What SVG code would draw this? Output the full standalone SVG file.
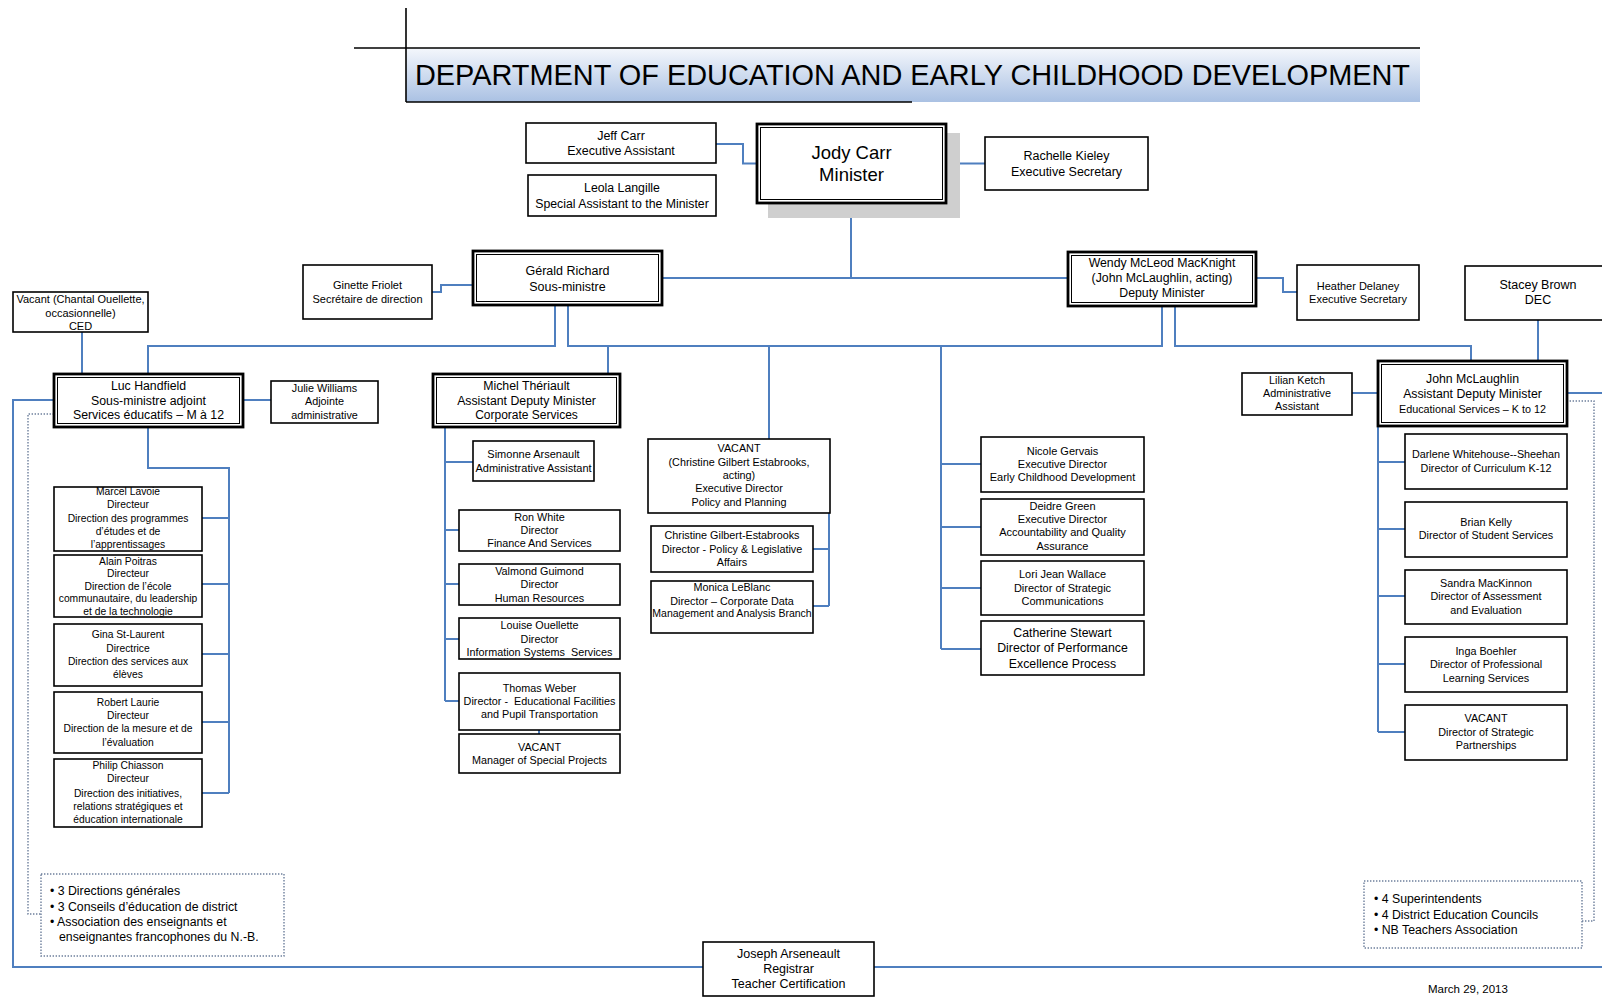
<svg xmlns="http://www.w3.org/2000/svg" width="1602" height="997" viewBox="0 0 1602 997">
<defs>
<linearGradient id="band" x1="0" y1="0" x2="0" y2="1">
<stop offset="0" stop-color="#f4f7fc"/>
<stop offset="1" stop-color="#aac1e3"/>
</linearGradient>
</defs>
<style>
.box{fill:#fff;stroke:#000;stroke-width:1.6}
.dbo{fill:#fff;stroke:#000;stroke-width:2.8}
.dbi{fill:none;stroke:#000;stroke-width:1}
.conn{fill:none;stroke:#4f7fbf;stroke-width:2}
.dot{fill:none;stroke:#6d7f9c;stroke-width:1.4;stroke-dasharray:1.4 1.6}
text{font-family:"Liberation Sans",Arial,sans-serif;fill:#000;text-anchor:middle}
.s125{font-size:12.5px}
.s123{font-size:12.3px}
.s11{font-size:11px}
.s108{font-size:10.8px}
.s103{font-size:10.3px}
.lt{text-anchor:start;font-size:12.3px}
</style>
<rect width="1602" height="997" fill="#fff"/>

<g id="title">
<rect x="406" y="48" width="1014" height="54" fill="url(#band)"/>
<line x1="406" y1="8" x2="406" y2="102" stroke="#000" stroke-width="1.6"/>
<line x1="354" y1="48" x2="1420" y2="48" stroke="#000" stroke-width="1.6"/>
<line x1="406" y1="102" x2="912" y2="102" stroke="#000" stroke-width="1.6"/>
<text x="415" y="85" style="text-anchor:start;font-size:30px" textLength="995" lengthAdjust="spacingAndGlyphs">DEPARTMENT OF EDUCATION AND EARLY CHILDHOOD DEVELOPMENT</text>
</g>

<g id="connectors">
<path class="conn" d="M716,144 H743 V163.5 H757"/>
<path class="conn" d="M946,163.5 H985"/>
<path class="conn" d="M851,210 V278"/>
<path class="conn" d="M662,278 H1068"/>
<path class="conn" d="M432,292 H441 V285 H473"/>
<path class="conn" d="M1256,278 H1283 V292 H1297"/>
<path class="conn" d="M555,305 V346 H148 V374"/>
<path class="conn" d="M568,305 V346 H1162 V305"/>
<path class="conn" d="M1175,305 V346 H1471 V361"/>
<path class="conn" d="M1538,320 V361"/>
<path class="conn" d="M608,346 V374"/>
<path class="conn" d="M769,346 V439"/>
<path class="conn" d="M941,346 V649 M941,464 H981 M941,527 H981 M941,588 H981 M941,649 H981"/>
<path class="conn" d="M82,332 V374"/>
<path class="conn" d="M243,400 H271"/>
<path class="conn" d="M148,427 V468 H229 V793 M202,518 H229 M202,584 H229 M202,654 H229 M202,722 H229 M202,793 H229"/>
<path class="conn" d="M54,400 H13 V967 H703 M874,967 H1602"/>
<path class="conn" d="M1567,393 H1602"/>
<path class="conn" d="M445,427 V701 M445,462 H473 M445,530 H459 M445,584 H459 M445,639 H459 M445,701 H459"/>
<path class="conn" d="M539,730 V734"/>
<path class="conn" d="M829,482 V606 M813,549 H829 M813,606 H829"/>
<path class="conn" d="M1352,393 H1378"/>
<path class="conn" d="M1378,426 V732 M1378,462 H1405 M1378,529 H1405 M1378,596 H1405 M1378,664 H1405 M1378,732 H1405"/>
<path class="dot" d="M54,414 H28 V914 H41"/>
<path class="dot" d="M1582,921 H1594 V401 H1567"/>
</g>

<g id="jeff-carr"><rect class="box" x="526" y="123" width="190" height="40"/>
<text class="s125" x="621" y="139.8">Jeff Carr</text><text class="s125" x="621" y="155.1">Executive Assistant</text></g>

<g id="leola-langille"><rect class="box" x="528" y="175" width="188" height="41"/>
<text class="s123" x="622" y="192.3">Leola Langille</text><text class="s123" x="622" y="207.6">Special Assistant to the Minister</text></g>

<g id="jody-carr"><rect x="768" y="133" width="192" height="85" fill="#cfcfcf"/>
<rect class="dbo" x="757" y="124" width="189" height="79"/><rect class="dbi" x="760.5" y="127.5" width="182" height="72"/>
<text x="851.5" y="158.9" style="font-size:18.5px">Jody Carr</text><text x="851.5" y="181.4" style="font-size:18.5px">Minister</text></g>

<g id="rachelle-kieley"><rect class="box" x="985" y="137" width="163" height="53"/>
<text class="s125" x="1066.5" y="160.3">Rachelle Kieley</text><text class="s125" x="1066.5" y="175.6">Executive Secretary</text></g>

<g id="ginette-friolet"><rect class="box" x="303" y="265" width="129" height="54"/>
<text class="s11" x="367.5" y="289.2">Ginette Friolet</text><text class="s11" x="367.5" y="302.7">Secrétaire de direction</text></g>

<g id="gerald-richard"><rect class="dbo" x="473" y="251" width="189" height="54"/><rect class="dbi" x="476.5" y="254.5" width="182" height="47"/>
<text class="s125" x="567.5" y="275.3">Gérald Richard</text><text class="s125" x="567.5" y="290.5">Sous-ministre</text></g>

<g id="wendy-mcleod-macknight"><rect class="dbo" x="1068" y="252" width="188" height="54"/><rect class="dbi" x="1071.5" y="255.5" width="181" height="47"/>
<text class="s123" x="1162" y="266.5">Wendy McLeod MacKnight</text><text class="s123" x="1162" y="281.6">(John McLaughlin, acting)</text><text class="s123" x="1162" y="296.7">Deputy Minister</text></g>

<g id="heather-delaney"><rect class="box" x="1297" y="265" width="122" height="55"/>
<text class="s11" x="1358" y="289.7">Heather Delaney</text><text class="s11" x="1358" y="303.2">Executive Secretary</text></g>

<g id="stacey-brown"><rect class="box" x="1465" y="266" width="145" height="54"/>
<text class="s125" x="1538" y="288.5">Stacey Brown</text><text class="s125" x="1538" y="303.9">DEC</text></g>

<g id="vacant-ced"><rect class="box" x="13" y="292" width="135" height="40"/>
<text class="s11" x="80.5" y="303.4">Vacant (Chantal Ouellette,</text><text class="s11" x="80.5" y="316.6">occasionnelle)</text><text class="s11" x="80.5" y="330">CED</text></g>

<g id="luc-handfield"><rect class="dbo" x="54" y="374" width="189" height="53"/><rect class="dbi" x="57.5" y="377.5" width="182" height="46"/>
<text class="s123" x="148.5" y="389.6">Luc Handfield</text><text class="s123" x="148.5" y="404.9">Sous-ministre adjoint</text><text class="s123" x="148.5" y="419.2">Services éducatifs – M à 12</text></g>

<g id="julie-williams"><rect class="box" x="271" y="381" width="107" height="42"/>
<text class="s108" x="324.5" y="391.9">Julie Williams</text><text class="s108" x="324.5" y="405.4">Adjointe</text><text class="s108" x="324.5" y="418.7">administrative</text></g>

<g id="michel-theriault"><rect class="dbo" x="433" y="374" width="187" height="53"/><rect class="dbi" x="436.5" y="377.5" width="180" height="46"/>
<text class="s123" x="526.5" y="389.6">Michel Thériault</text><text class="s123" x="526.5" y="404.9">Assistant Deputy Minister</text><text x="526.5" y="419.2" style="font-size:12px">Corporate Services</text></g>

<g id="simonne-arsenault"><rect class="box" x="473" y="441" width="121" height="40"/>
<text class="s11" x="533.5" y="457.5">Simonne Arsenault</text><text class="s11" x="533.5" y="471.9">Administrative Assistant</text></g>

<g id="ron-white"><rect class="box" x="459" y="510" width="161" height="41"/>
<text class="s108" x="539.5" y="520.9">Ron White</text><text class="s108" x="539.5" y="534.2">Director</text><text class="s108" x="539.5" y="547.4">Finance And Services</text></g>

<g id="valmond-guimond"><rect class="box" x="459" y="564" width="161" height="41"/>
<text class="s108" x="539.5" y="575">Valmond Guimond</text><text class="s108" x="539.5" y="588.3">Director</text><text class="s108" x="539.5" y="601.6">Human Resources</text></g>

<g id="louise-ouellette"><rect class="box" x="459" y="618" width="161" height="41"/>
<text class="s108" x="539.5" y="629.2">Louise Ouellette</text><text class="s108" x="539.5" y="642.5">Director</text><text class="s108" x="539.5" y="655.7" xml:space="preserve">Information Systems  Services</text></g>

<g id="thomas-weber"><rect class="box" x="459" y="673" width="161" height="57"/>
<text class="s108" x="539.5" y="691.5">Thomas Weber</text><text class="s108" x="539.5" y="704.8" xml:space="preserve">Director -  Educational Facilities</text><text class="s108" x="539.5" y="718.1">and Pupil Transportation</text></g>

<g id="vacant-special-projects"><rect class="box" x="459" y="734" width="161" height="39"/>
<text class="s108" x="539.5" y="750.8">VACANT</text><text class="s108" x="539.5" y="764">Manager of Special Projects</text></g>

<g id="vacant-policy"><rect class="box" x="648" y="439" width="182" height="74"/>
<text class="s108" x="739" y="452.4">VACANT</text><text class="s108" x="739" y="465.7">(Christine Gilbert Estabrooks,</text><text class="s108" x="739" y="479">acting)</text><text class="s108" x="739" y="492.3">Executive Director</text><text class="s108" x="739" y="505.6">Policy and Planning</text></g>

<g id="christine-gilbert-estabrooks"><rect class="box" x="651" y="526" width="162" height="46"/>
<text class="s108" x="732" y="539.3">Christine Gilbert-Estabrooks</text><text class="s108" x="732" y="552.6">Director - Policy &amp; Legislative</text><text class="s108" x="732" y="565.8">Affairs</text></g>

<g id="monica-leblanc"><rect class="box" x="651" y="581" width="162" height="52"/>
<text class="s108" x="732" y="591.4">Monica LeBlanc</text><text class="s108" x="732" y="604.7">Director – Corporate Data</text><text x="732" y="616.9" style="font-size:10.5px">Management and Analysis Branch</text></g>

<g id="nicole-gervais"><rect class="box" x="981" y="437" width="163" height="55"/>
<text class="s11" x="1062.5" y="454.6">Nicole Gervais</text><text class="s11" x="1062.5" y="467.8">Executive Director</text><text class="s11" x="1062.5" y="481.1">Early Childhood Development</text></g>

<g id="deidre-green"><rect class="box" x="981" y="499" width="163" height="56"/>
<text class="s11" x="1062.5" y="509.7">Deidre Green</text><text class="s11" x="1062.5" y="523">Executive Director</text><text class="s11" x="1062.5" y="536.3">Accountability and Quality</text><text class="s11" x="1062.5" y="549.6">Assurance</text></g>

<g id="lori-jean-wallace"><rect class="box" x="981" y="561" width="163" height="54"/>
<text class="s11" x="1062.5" y="578.2">Lori Jean Wallace</text><text class="s11" x="1062.5" y="591.5">Director of Strategic</text><text class="s11" x="1062.5" y="604.8">Communications</text></g>

<g id="catherine-stewart"><rect class="box" x="981" y="621" width="163" height="54"/>
<text class="s123" x="1062.5" y="636.8">Catherine Stewart</text><text class="s123" x="1062.5" y="652.2">Director of Performance</text><text class="s123" x="1062.5" y="667.5">Excellence Process</text></g>

<g id="lilian-ketch"><rect class="box" x="1242" y="373" width="110" height="42"/>
<text class="s108" x="1297" y="383.9">Lilian Ketch</text><text class="s108" x="1297" y="397.3">Administrative</text><text class="s108" x="1297" y="409.5">Assistant</text></g>

<g id="john-mclaughlin"><rect class="dbo" x="1378" y="361" width="189" height="65"/><rect class="dbi" x="1381.5" y="364.5" width="182" height="58"/>
<text class="s123" x="1472.5" y="383.4">John McLaughlin</text><text class="s123" x="1472.5" y="397.8">Assistant Deputy Minister</text><text class="s108" x="1472.5" y="412.6">Educational Services – K to 12</text></g>

<g id="darlene-whitehouse-sheehan"><rect class="box" x="1405" y="434" width="162" height="55"/>
<text class="s108" x="1486" y="458.2">Darlene Whitehouse--Sheehan</text><text class="s108" x="1486" y="471.6">Director of Curriculum K-12</text></g>

<g id="brian-kelly"><rect class="box" x="1405" y="502" width="162" height="55"/>
<text class="s108" x="1486" y="525.6">Brian Kelly</text><text class="s108" x="1486" y="539.2">Director of Student Services</text></g>

<g id="sandra-mackinnon"><rect class="box" x="1405" y="570" width="162" height="54"/>
<text class="s108" x="1486" y="586.9">Sandra MacKinnon</text><text class="s108" x="1486" y="600.2">Director of Assessment</text><text class="s108" x="1486" y="613.9">and Evaluation</text></g>

<g id="inga-boehler"><rect class="box" x="1405" y="637" width="162" height="55"/>
<text class="s108" x="1486" y="654.6">Inga Boehler</text><text class="s108" x="1486" y="667.9">Director of Professional</text><text class="s108" x="1486" y="681.6">Learning Services</text></g>

<g id="vacant-strategic-partnerships"><rect class="box" x="1405" y="705" width="162" height="55"/>
<text class="s108" x="1486" y="721.9">VACANT</text><text class="s108" x="1486" y="735.6">Director of Strategic</text><text class="s108" x="1486" y="748.9">Partnerships</text></g>

<g id="marcel-lavoie"><rect class="box" x="54" y="487" width="148" height="64"/>
<text class="s103" x="128" y="495.1">Marcel Lavoie</text><text class="s103" x="128" y="508.4">Directeur</text><text class="s103" x="128" y="521.7">Direction des programmes</text><text class="s103" x="128" y="535">d’études et de</text><text class="s103" x="128" y="548.3">l’apprentissages</text></g>

<g id="alain-poitras"><rect class="box" x="54" y="555" width="148" height="62"/>
<text class="s103" x="128" y="564.6">Alain Poitras</text><text class="s103" x="128" y="576.9">Directeur</text><text class="s103" x="128" y="590.2">Direction de l’école</text><text class="s103" x="128" y="602.4">communautaire, du leadership</text><text class="s103" x="128" y="614.7">et de la technologie</text></g>

<g id="gina-st-laurent"><rect class="box" x="54" y="624" width="148" height="62"/>
<text class="s103" x="128" y="638.2">Gina St-Laurent</text><text class="s103" x="128" y="651.5">Directrice</text><text class="s103" x="128" y="664.7">Direction des services aux</text><text class="s103" x="128" y="678">élèves</text></g>

<g id="robert-laurie"><rect class="box" x="54" y="692" width="148" height="61"/>
<text class="s103" x="128" y="705.6">Robert Laurie</text><text class="s103" x="128" y="718.9">Directeur</text><text class="s103" x="128" y="732.2">Direction de la mesure et de</text><text class="s103" x="128" y="745.5">l’évaluation</text></g>

<g id="philip-chiasson"><rect class="box" x="54" y="759" width="148" height="68"/>
<text class="s103" x="128" y="769">Philip Chiasson</text><text class="s103" x="128" y="782.2">Directeur</text><text class="s103" x="128" y="796.5">Direction des initiatives,</text><text class="s103" x="128" y="809.8">relations stratégiques et</text><text class="s103" x="128" y="823.1">éducation internationale</text></g>

<g id="francophone-sector"><rect class="dot" x="41" y="874" width="243" height="82"/>
<text class="lt" x="50" y="895.4">• 3 Directions générales</text><text class="lt" x="50" y="910.6">• 3 Conseils d’éducation de district</text><text class="lt" x="50" y="926">• Association des enseignants et</text><text class="lt" x="59" y="941.3">enseignantes francophones du N.-B.</text></g>

<g id="anglophone-sector"><rect class="dot" x="1364" y="881" width="218" height="67"/>
<text class="lt" x="1374" y="903.4">• 4 Superintendents</text><text class="lt" x="1374" y="918.8">• 4 District Education Councils</text><text class="lt" x="1374" y="934.1">• NB Teachers Association</text></g>

<g id="joseph-arseneault"><rect class="box" x="703" y="942" width="171" height="54"/>
<text class="s125" x="788.5" y="957.7">Joseph Arseneault</text><text class="s125" x="788.5" y="973.1">Registrar</text><text class="s125" x="788.5" y="988.4">Teacher Certification</text></g>

<text x="1428" y="993" style="text-anchor:start;font-size:11.5px">March 29, 2013</text>
</svg>
